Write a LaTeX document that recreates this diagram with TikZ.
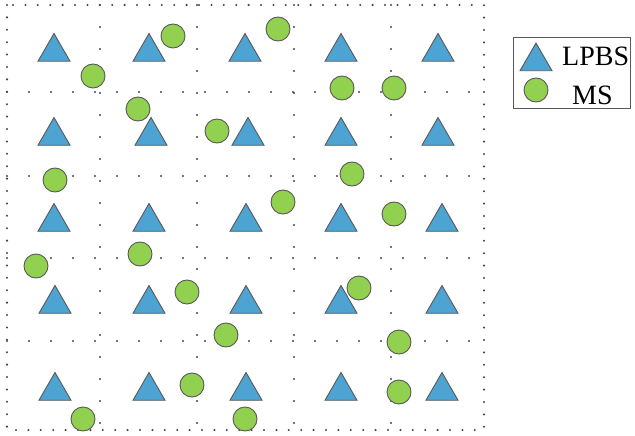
\documentclass[tikz,border=0pt]{standalone}
\usepackage{fontspec}
\setmainfont{Liberation Serif}
\usetikzlibrary{shapes.geometric}
\definecolor{lpbsblue}{RGB}{77,163,210}
\definecolor{msgreen}{RGB}{146,208,80}
\definecolor{edgegray}{RGB}{89,89,89}
\definecolor{dotgray}{RGB}{70,70,70}

\tikzset{
  lpbs/.style={regular polygon, regular polygon sides=3, minimum size=37pt,
               inner sep=0pt, fill=lpbsblue, draw=edgegray, line width=0.9pt},
  ms/.style={circle, minimum size=24pt, inner sep=0pt,
             fill=msgreen, draw=edgegray, line width=0.9pt},
  border/.style={dotgray, line width=2.3pt, line cap=round,
                 dash pattern=on 0pt off 12.4pt},
  cellline/.style={dotgray, line width=2.3pt, line cap=round,
                   dash pattern=on 0pt off 22pt},
  keytext/.style={anchor=base west, inner sep=0pt,
                  font=\fontsize{28}{30}\selectfont},
}

\begin{document}
\begin{tikzpicture}[x=1pt, y=-1pt]
    \useasboundingbox (0,0) rectangle (635,436);

    %% dotted cells
    \foreach \x in {100,197,294,391}
      \draw[cellline] (\x,5) -- (\x,430);
    \foreach \y in {92,176,258,341}
      \draw[cellline] (7,\y) -- (484,\y);
    \draw[border] (7,5) rectangle (484,430);

    %% LPBS -- one per cell row
    \foreach \y/\xs [count=\r] in {52/{54,149,245,341,438},
                                   136/{54,151,248,341,438},
                                   222/{54,149,246,341,442},
                                   304/{55,149,246,341,442},
                                   391/{55,149,246,341,442}}
      \foreach \x [count=\c] in \xs
        \node[lpbs] (lpbs-\r-\c) at (\x,\y) {};

    %% MS -- scattered
    \foreach \x/\y [count=\i] in {173/36, 278/29, 93/76, 342/88, 394/88,
                                  138/109, 217/131, 55/180, 352/174, 283/202,
                                  394/214, 36/266, 140/254, 187/292, 359/288,
                                  226/335, 399/342, 192/385, 399/392, 83/419,
                                  245/419}
      \node[ms] (ms-\i) at (\x,\y) {};

    %% legend
    \draw[edgegray, line width=0.8pt] (513,37) rectangle (630,108);
    \node[lpbs] (key-lpbs) at (536,61.5) {};
    \node[keytext] (key-lpbs-text) at (562,65.5) {LPBS};
    \node[ms] (key-ms) at (536,90) {};
    \node[keytext] (key-ms-text) at (572,104) {MS};
  \end{tikzpicture}
\end{document}
